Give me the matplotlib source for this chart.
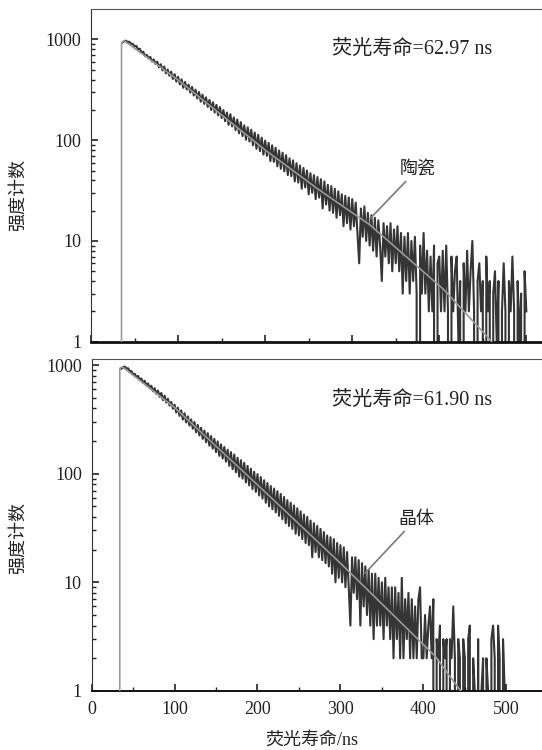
import matplotlib
matplotlib.use("Agg")
import matplotlib.pyplot as plt
from matplotlib.ticker import MultipleLocator, LogLocator, NullFormatter
import numpy as np

plt.rcParams["font.family"] = ["Liberation Serif", "Noto Sans CJK SC"]

# photon counts, one channel every 2 ns starting at 36 ns
t0, dt = 36, 2
counts_ceramic = [
    930, 958, 972, 941, 948, 905, 902, 851, 861, 798,
    808, 741, 755, 683, 702, 648, 671, 604, 633, 571,
    601, 528, 567, 492, 538, 461, 502, 436, 478, 405,
    452, 381, 425, 358, 402, 331, 379, 318, 356, 296,
    338, 278, 317, 259, 301, 241, 283, 229, 266, 214,
    251, 199, 238, 188, 224, 176, 213, 166, 199, 154,
    188, 142, 181, 137, 168, 126, 160, 117, 151, 110,
    140, 101, 134, 97, 127, 89, 119, 82, 113, 78,
    106, 72, 99, 70, 94, 62, 89, 61, 84, 55,
    79, 52, 75, 49, 71, 45, 66, 44, 63, 39,
    59, 38, 56, 33, 53, 34, 50, 29, 47, 30,
    45, 26, 43, 27, 41, 21, 39, 23, 36, 20,
    35, 19, 33, 17, 31, 18, 29, 14, 28, 15,
    27, 13, 26, 14, 24, 12, 6, 21, 11, 22,
    10, 19, 9, 18, 8, 17, 7, 16, 9, 4,
    15, 7, 14, 6, 15, 5, 13, 6, 14, 5,
    12, 3, 11, 4, 12, 3, 10, 4, 11, 3,
    0, 9, 3, 12, 3, 8, 2, 7, 2, 9,
    0, 6, 7, 2, 8, 2, 9, 2, 0, 7,
    2, 5, 7, 1, 4, 0, 6, 2, 8, 2,
    5, 10, 2, 0, 4, 6, 2, 4, 0, 7,
    2, 4, 0, 3, 5, 1, 4, 0, 2, 6,
    2, 0, 4, 2, 7, 2, 0, 4, 1, 3,
    0, 5, 2,
]
counts_crystal = [
    925, 955, 968, 930, 934, 878, 879, 818, 830, 776,
    793, 731, 752, 686, 716, 645, 678, 612, 645, 573,
    612, 543, 582, 509, 553, 475, 522, 451, 490, 423,
    458, 396, 432, 366, 405, 340, 382, 315, 360, 296,
    337, 277, 316, 259, 299, 240, 281, 225, 265, 209,
    249, 195, 236, 181, 222, 170, 209, 158, 198, 146,
    186, 138, 176, 129, 166, 118, 158, 110, 150, 103,
    140, 94, 133, 90, 126, 83, 118, 78, 111, 72,
    104, 68, 99, 63, 93, 59, 87, 54, 82, 50,
    77, 47, 73, 44, 69, 41, 65, 38, 61, 35,
    57, 33, 54, 31, 51, 28, 48, 27, 45, 25,
    42, 23, 40, 22, 37, 17, 35, 19, 33, 17,
    31, 16, 29, 15, 27, 14, 26, 12, 25, 10,
    23, 11, 22, 10, 21, 9, 19, 9, 4, 17,
    8, 17, 7, 16, 4, 15, 6, 14, 5, 13,
    4, 12, 3, 12, 4, 11, 4, 10, 3, 11,
    4, 9, 3, 9, 2, 9, 3, 8, 2, 11,
    2, 7, 3, 8, 2, 7, 2, 6, 2, 7,
    9, 2, 2, 5, 2, 4, 6, 2, 7, 0,
    3, 2, 4, 0, 3, 2, 3, 0, 3, 2,
    6, 2, 0, 3, 2, 0, 3, 2, 0, 3,
    4, 0, 2, 1, 0, 3, 0, 1, 2, 0,
    2, 1, 0, 3, 4, 2, 0, 4, 2, 0,
    3, 1, 0,
]

# fitted decay curve (rise edge, peak, then decay)
fit_t_ceramic = [34, 35, 38, 100, 200, 260, 320, 405, 452, 470]
fit_v_ceramic = [0, 930, 968, 395, 80, 33, 14.5, 3.3, 1.2, 0.8]
fit_t_crystal = [32.5, 34, 37, 100, 200, 300, 414, 445]
fit_v_crystal = [0, 930, 962, 406, 79, 15, 2.1, 1.0]

ytick_vals = [1, 10, 100, 1000]
ytick_labels = ["1", "10", "100", "1000"]
xtick_vals = [0, 100, 200, 300, 400, 500]
xtick_labels = ["0", "100", "200", "300", "400", "500"]

panels = [
    dict(counts=counts_ceramic, fit_t=fit_t_ceramic, fit_v=fit_v_ceramic,
         life="荧光寿命=62.97 ns", name="陶瓷",
         name_xy=(375, 51.6), point_xy=(320.7, 16.7),
         rect=[0.168, 0.5444, 0.832, 0.4432], xmax=518, ymax=1990,
         life_y=0.880, ylabel_y=0.74, show_x=False),
    dict(counts=counts_crystal, fit_t=fit_t_crystal, fit_v=fit_v_crystal,
         life="荧光寿命=61.90 ns", name="晶体",
         name_xy=(391, 38.2), point_xy=(329.5, 12.1),
         rect=[0.169, 0.0787, 0.831, 0.4423], xmax=543, ymax=1130,
         life_y=0.877, ylabel_y=0.283, show_x=True),
]

fig = plt.figure(figsize=(5.42, 7.5), dpi=100)

for p in panels:
    ax = fig.add_axes(p["rect"])
    t = t0 + dt * np.arange(len(p["counts"]))
    ax.plot(t, p["counts"], color="#111111", lw=1.5, alpha=0.85, zorder=2)
    ax.plot(p["fit_t"], p["fit_v"], color="#9a9a9a", lw=1.2, zorder=3)

    ax.set_yscale("log")
    ax.set_ylim(1, p["ymax"])
    ax.set_xlim(0, p["xmax"])
    ax.set_yticks(ytick_vals, labels=ytick_labels)
    ax.yaxis.set_minor_locator(LogLocator(base=10, subs=np.arange(2, 10)))
    ax.yaxis.set_minor_formatter(NullFormatter())
    ax.xaxis.set_minor_locator(MultipleLocator(50))
    if p["show_x"]:
        ax.set_xticks(xtick_vals, labels=xtick_labels)
    else:
        ax.set_xticks(xtick_vals, labels=[""] * len(xtick_vals))

    ax.tick_params(which="both", direction="in", top=False, right=False,
                   labelsize=13, colors="#222222")
    ax.tick_params(which="major", length=5, width=1.2)
    ax.tick_params(which="minor", length=3, width=1.0)
    ax.tick_params(axis="y", pad=7)
    ax.tick_params(axis="x", pad=7)

    ax.spines["right"].set_visible(False)
    ax.spines["top"].set_color("#555555")
    ax.spines["left"].set_color("#333333")
    ax.spines["bottom"].set_color("#111111")
    ax.spines["bottom"].set_linewidth(2.0 if not p["show_x"] else 1.4)

    ax.text(0.711, p["life_y"], p["life"], transform=ax.transAxes,
            ha="center", va="center", fontsize=14.5, color="#222222")
    ax.annotate(p["name"], xy=p["point_xy"], xytext=p["name_xy"],
                ha="center", va="center", fontsize=13, color="#222222",
                arrowprops=dict(arrowstyle="-", color="#7a7a7a", lw=1.2,
                                shrinkA=1, shrinkB=0), zorder=4)

    fig.text(0.033, p["ylabel_y"], "强度计数", rotation=90,
             ha="center", va="center", fontsize=13, color="#222222")

fig.text(0.575, 0.0133, "荧光寿命/ns", ha="center", va="center",
         fontsize=13, color="#222222")

fig.savefig("out.png", dpi=100)
